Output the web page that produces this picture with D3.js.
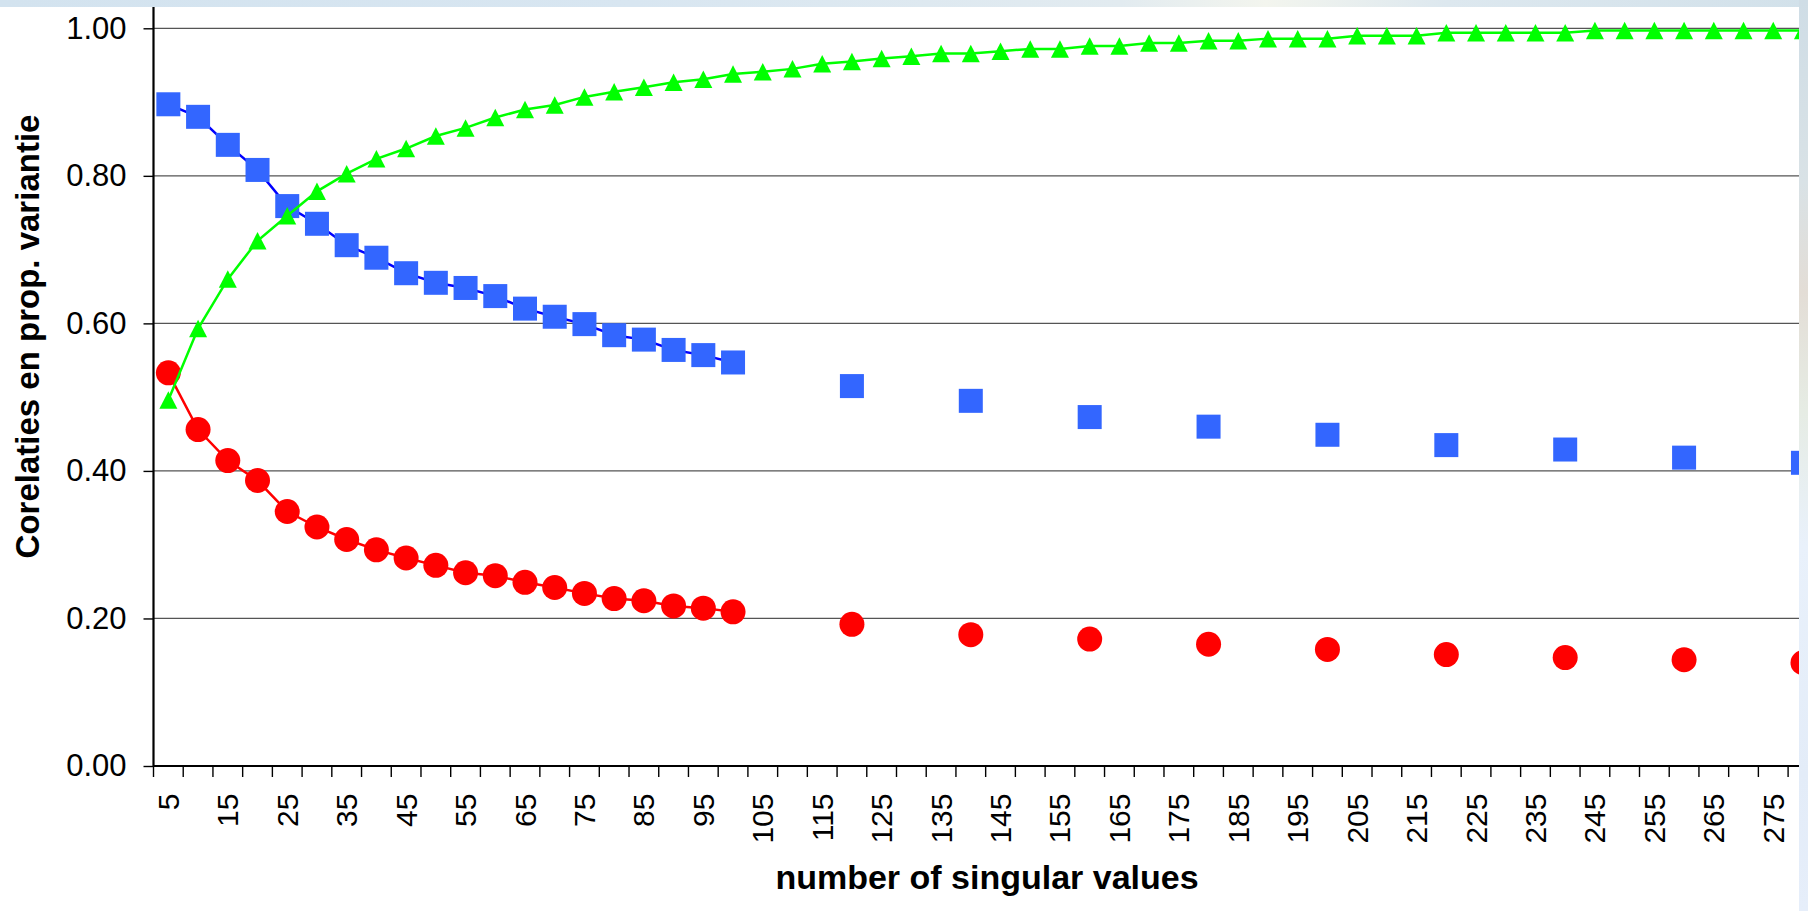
<!DOCTYPE html>
<html>
<head>
<meta charset="utf-8">
<title>Corelaties en prop. variantie</title>
<script src="https://cdn.jsdelivr.net/npm/d3@7/dist/d3.min.js"></script>
<style>
  html, body { margin: 0; padding: 0; background: #fff; }
  svg { display: block; }
  text { font-family: "Liberation Sans", Arial, Helvetica, sans-serif; fill: #000; }
</style>
</head>
<body>
<svg id="chart" width="1808" height="911"></svg>
<script>
// number of singular values (category axis)
const categories = [5, 10, 15, 20, 25, 30, 35, 40, 45, 50, 55, 60, 65, 70, 75, 80, 85, 90, 95, 100,
  105, 110, 115, 120, 125, 130, 135, 140, 145, 150, 155, 160, 165, 170, 175, 180, 185, 190, 195, 200,
  205, 210, 215, 220, 225, 230, 235, 240, 245, 250, 255, 260, 265, 270, 275, 280];

// labels shown under the category axis
const tickLabels = ["5", "15", "25", "35", "45", "55", "65", "75", "85", "95", "105", "115", "125",
  "135", "145", "155", "165", "175", "185", "195", "205", "215", "225", "235", "245", "255", "265", "275"];

const yTickValues = [0, 0.2, 0.4, 0.6, 0.8, 1.0];

// correlation series (blue squares); beyond 100 only every 20th value is present
const corrBlue = [0.897, 0.880, 0.842, 0.808, 0.759, 0.735, 0.706, 0.689, 0.668, 0.655,
  0.648, 0.637, 0.620, 0.609, 0.599, 0.584, 0.578, 0.564, 0.557, 0.547,
  null, null, null, 0.515, null, null, null, 0.495, null, null, null, 0.473,
  null, null, null, 0.460, null, null, null, 0.449, null, null, null, 0.435,
  null, null, null, 0.429, null, null, null, 0.418, null, null, null, 0.411];

// correlation series (red circles)
const corrRed = [0.533, 0.456, 0.414, 0.387, 0.345, 0.324, 0.307, 0.293, 0.282, 0.272,
  0.262, 0.258, 0.249, 0.242, 0.234, 0.227, 0.224, 0.217, 0.214, 0.209,
  null, null, null, 0.192, null, null, null, 0.178, null, null, null, 0.172,
  null, null, null, 0.165, null, null, null, 0.158, null, null, null, 0.151,
  null, null, null, 0.147, null, null, null, 0.144, null, null, null, 0.140];

// cumulative proportion of variance (green triangles)
const propVariantie = [0.496, 0.593, 0.660, 0.712, 0.746, 0.779, 0.803, 0.823, 0.837, 0.854,
  0.865, 0.879, 0.890, 0.896, 0.907, 0.914, 0.920, 0.927, 0.931, 0.938,
  0.941, 0.945, 0.952, 0.955, 0.959, 0.962, 0.966, 0.966, 0.969, 0.972,
  0.972, 0.976, 0.976, 0.980, 0.980, 0.983, 0.983, 0.986, 0.986, 0.986,
  0.990, 0.990, 0.990, 0.994, 0.994, 0.994, 0.994, 0.994, 0.997, 0.997,
  0.997, 0.997, 0.997, 0.997, 0.997, 0.997];

const W = 1808, H = 911;
const plotLeft = 153.5, plotTop = 7, plotBottom = 766, plotRight = 1799;
const catStep = 29.72;

const svg = d3.select("#chart");
const defs = svg.append("defs");

// soft backdrop edges around the chart sheet
const topGrad = defs.append("linearGradient").attr("id", "topBand").attr("x1", 0).attr("x2", 1).attr("y1", 0).attr("y2", 0);
[["0%", "#d3e3ef"], ["35%", "#d8e6f1"], ["62%", "#e2ebf0"], ["70%", "#f3f5ee"], ["80%", "#dde8ef"], ["100%", "#d2e1ea"]]
  .forEach(([o, c]) => topGrad.append("stop").attr("offset", o).attr("stop-color", c));
const sideGrad = defs.append("linearGradient").attr("id", "sideBand").attr("x1", 0).attr("x2", 0).attr("y1", 0).attr("y2", 1);
[["0%", "#cfdde6"], ["20%", "#d9e2e6"], ["32%", "#e3ddd6"], ["45%", "#e6ece4"], ["60%", "#e9f1fb"], ["85%", "#e3ecf8"], ["100%", "#e6eefa"]]
  .forEach(([o, c]) => sideGrad.append("stop").attr("offset", o).attr("stop-color", c));

defs.append("clipPath").attr("id", "plotClip")
  .append("rect").attr("x", 0).attr("y", plotTop).attr("width", plotRight).attr("height", H - plotTop);

svg.append("rect").attr("width", W).attr("height", H).attr("fill", "#fff");

const x = d3.scaleBand()
  .domain(categories)
  .range([plotLeft, plotLeft + catStep * categories.length])
  .paddingInner(0).paddingOuter(0);
const cx = c => x(c) + x.bandwidth() / 2;

const y = d3.scaleLinear().domain([0, 1]).range([plotBottom, 28.3]);

// horizontal gridlines
svg.append("g").attr("class", "grid")
  .selectAll("line")
  .data(yTickValues.filter(v => v > 0))
  .join("line")
  .attr("x1", plotLeft).attr("x2", plotRight)
  .attr("y1", d => y(d)).attr("y2", d => y(d))
  .attr("stroke", "#555").attr("stroke-width", 1.3);

// series
const plot = svg.append("g").attr("clip-path", "url(#plotClip)");

function seriesData(values) {
  return categories.map((c, i) => ({ c, v: values[i] }));
}
const line = d3.line()
  .defined(d => d.v != null)
  .x(d => cx(d.c))
  .y(d => y(d.v));

const redData = seriesData(corrRed);
const blueData = seriesData(corrBlue);
const greenData = seriesData(propVariantie);

// red circles
plot.append("path").datum(redData).attr("d", line)
  .attr("fill", "none").attr("stroke", "#ff0000").attr("stroke-width", 2.5);
plot.append("g").selectAll("circle")
  .data(redData.filter(d => d.v != null))
  .join("circle")
  .attr("cx", d => cx(d.c)).attr("cy", d => y(d.v))
  .attr("r", 12.5).attr("fill", "#ff0000");

// blue squares
plot.append("path").datum(blueData).attr("d", line)
  .attr("fill", "none").attr("stroke", "#0000ff").attr("stroke-width", 2.5);
const sq = 24;
plot.append("g").selectAll("rect")
  .data(blueData.filter(d => d.v != null))
  .join("rect")
  .attr("x", d => cx(d.c) - sq / 2).attr("y", d => y(d.v) - sq / 2)
  .attr("width", sq).attr("height", sq)
  .attr("fill", "#3366ff");

// green triangles
plot.append("path").datum(greenData).attr("d", line)
  .attr("fill", "none").attr("stroke", "#00ff00").attr("stroke-width", 2.5);
const triW = 18, triH = 17.5;
plot.append("g").selectAll("path")
  .data(greenData.filter(d => d.v != null))
  .join("path")
  .attr("transform", d => `translate(${cx(d.c)},${y(d.v)})`)
  .attr("d", `M0,${-triH / 2}L${triW / 2},${triH / 2}L${-triW / 2},${triH / 2}Z`)
  .attr("fill", "#00ff00");

// x axis: labels under every second category, tick marks between categories
const xAxisG = svg.append("g").attr("transform", `translate(0,${plotBottom})`);
xAxisG.call(d3.axisBottom(x)
  .tickValues(tickLabels.map(Number))
  .tickSize(0)
  .tickFormat((d, i) => tickLabels[i]));
xAxisG.select(".domain").remove();
xAxisG.selectAll(".tick text")
  .attr("transform", "rotate(-90)")
  .attr("x", -27.5).attr("y", 0).attr("dy", "0.35em")
  .attr("text-anchor", "end")
  .style("font-size", "30px").style("font-family", "'Liberation Sans', Arial, sans-serif");

const boundaries = categories.map(c => x(c)).filter(v => v <= plotRight);
xAxisG.append("g").selectAll("line")
  .data(boundaries)
  .join("line")
  .attr("x1", d => d).attr("x2", d => d)
  .attr("y1", 0).attr("y2", 11)
  .attr("stroke", "#000").attr("stroke-width", 1.4);
xAxisG.append("line")
  .attr("x1", plotLeft).attr("x2", plotRight).attr("y1", 0).attr("y2", 0)
  .attr("stroke", "#000").attr("stroke-width", 2.2);

// y axis
const yAxisG = svg.append("g").attr("transform", `translate(${plotLeft},0)`);
yAxisG.call(d3.axisLeft(y)
  .tickValues(yTickValues)
  .tickFormat(d3.format(".2f"))
  .tickSize(10)
  .tickPadding(17));
yAxisG.select(".domain").remove();
yAxisG.selectAll(".tick line").attr("stroke", "#000").attr("stroke-width", 1.4);
yAxisG.selectAll(".tick text")
  .style("font-size", "31px").style("font-family", "'Liberation Sans', Arial, sans-serif")
  .attr("fill", "#000");
yAxisG.append("line")
  .attr("x1", 0).attr("x2", 0).attr("y1", plotTop).attr("y2", plotBottom + 1)
  .attr("stroke", "#000").attr("stroke-width", 2.2);

// axis titles
svg.append("text")
  .attr("transform", "translate(39,336.5) rotate(-90)")
  .attr("text-anchor", "middle")
  .style("font-size", "33px").style("font-weight", "bold")
  .text("Corelaties en prop. variantie");

svg.append("text")
  .attr("x", 987).attr("y", 889)
  .attr("text-anchor", "middle")
  .style("font-size", "34px").style("font-weight", "bold")
  .text("number of singular values");

// backdrop edges
svg.append("rect").attr("x", 0).attr("y", 0).attr("width", W).attr("height", plotTop).attr("fill", "url(#topBand)");
svg.append("rect").attr("x", plotRight).attr("y", 0).attr("width", W - plotRight).attr("height", H).attr("fill", "url(#sideBand)");
</script>
</body>
</html>
